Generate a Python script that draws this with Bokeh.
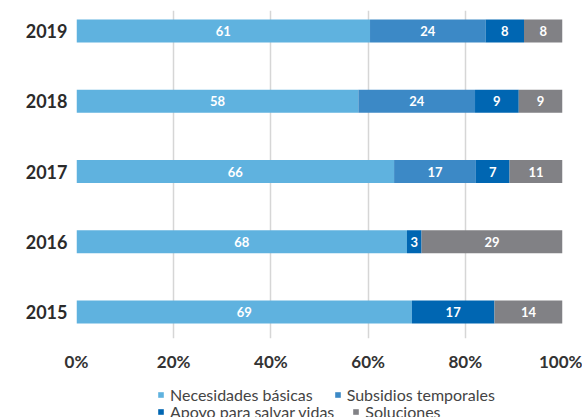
from bokeh.plotting import figure
from bokeh.models import ColumnDataSource, Range1d, Legend, LegendItem
from bokeh.layouts import column
from bokeh.core.properties import value
from bokeh.embed import file_html
from bokeh.resources import INLINE

years = ["2015", "2016", "2017", "2018", "2019"]
necesidades = [69, 68, 66, 58, 61]
subsidios = [0, 0, 17, 24, 24]
apoyo = [17, 3, 7, 9, 8]
soluciones = [14, 29, 11, 9, 8]
series_names = ["Necesidades básicas", "Subsidios temporales",
                "Apoyo para salvar vidas", "Soluciones"]
colors = ["#5fb2df", "#3c89c6", "#0066b2", "#818185"]
x_ticks = [0, 20, 40, 60, 80, 100]

FONT = "Lato"
series = [necesidades, subsidios, apoyo, soluciones]

p = figure(frame_width=486, frame_height=328, output_backend="svg",
           toolbar_location=None,
           x_range=Range1d(0, 100), y_range=Range1d(-0.377, 4.292),
           min_border_left=76, min_border_right=20, min_border_top=10,
           min_border_bottom=32)
p.outline_line_color = None
p.background_fill_color = "white"

# grid
p.xgrid.ticker = x_ticks
p.xgrid.grid_line_color = "#d6d6d6"
p.xgrid.grid_line_width = 1.5
p.ygrid.grid_line_color = None

totals = [sum(s[i] for s in series) for i in range(len(years))]
lab_x, lab_y, lab_t = [], [], []
cum = [0.0] * len(years)
for k, s in enumerate(series):
    left, right, ys = [], [], []
    for i, v in enumerate(s):
        share = 100.0 * v / totals[i]
        left.append(cum[i])
        right.append(cum[i] + share)
        ys.append(i)
        if v > 0:
            lab_x.append(cum[i] + share / 2)
            lab_y.append(i)
            lab_t.append(str(v))
        cum[i] += share
    src = ColumnDataSource(dict(y=ys, left=left, right=right))
    p.hbar(y="y", left="left", right="right", height=0.33, source=src,
           fill_color=colors[k], line_color=None)

lsrc = ColumnDataSource(dict(x=lab_x, y=lab_y, t=lab_t))
p.text(x="x", y="y", text="t", source=lsrc, text_color="white",
       text_font=value(FONT), text_font_style="bold", text_font_size="13px",
       text_align="center", text_baseline="middle")

# axes
p.yaxis.ticker = list(range(len(years)))
p.yaxis.major_label_overrides = {i: y for i, y in enumerate(years)}
p.yaxis.major_label_text_font = FONT
p.yaxis.major_label_text_font_style = "bold"
p.yaxis.major_label_text_font_size = "18px"
p.yaxis.major_label_text_color = "#2b2b2b"
p.yaxis.major_label_standoff = 3
p.yaxis.axis_line_color = None
p.yaxis.major_tick_line_color = None
p.yaxis.minor_tick_line_color = None

p.xaxis.ticker = x_ticks
p.xaxis.major_label_overrides = {t: f"{t}%" for t in x_ticks}
p.xaxis.major_label_text_font = FONT
p.xaxis.major_label_text_font_style = "bold"
p.xaxis.major_label_text_font_size = "17px"
p.xaxis.major_label_text_color = "#333333"
p.xaxis.major_label_standoff = 6
p.xaxis.axis_line_color = None
p.xaxis.major_tick_line_color = None
p.xaxis.minor_tick_line_color = None

# legend figure (legend swatches use hidden proxy renderers)
p2 = figure(width=582, height=47, output_backend="svg", toolbar_location=None,
            x_range=Range1d(0, 1), y_range=Range1d(0, 1),
            x_axis_type=None, y_axis_type=None,
            min_border_left=0, min_border_right=0,
            min_border_top=0, min_border_bottom=0)
p2.outline_line_color = None
p2.xgrid.grid_line_color = None
p2.ygrid.grid_line_color = None
proxies = []
for k in range(4):
    d = p2.hbar(y=[-10], left=[-10], right=[-9], height=0.5,
                fill_color=colors[k], line_color=None)
    proxies.append(d)

for idx, loc, sp in [((0, 1), (81, 17.5), 21), ((2, 3), (81, 0), 18)]:
    items = [LegendItem(label=series_names[j], renderers=[proxies[j]]) for j in idx]
    lg = Legend(items=items, orientation="horizontal", location=loc,
                border_line_color=None, background_fill_alpha=0,
                label_text_font=FONT, label_text_font_size="16px",
                label_text_color="#444444", glyph_width=7, glyph_height=7,
                label_standoff=6, spacing=sp, padding=0, margin=0,
                label_height=17)
    p2.add_layout(lg, "center")

layout = column(p, p2, spacing=0)
open("out.html", "w").write(file_html(layout, INLINE))
